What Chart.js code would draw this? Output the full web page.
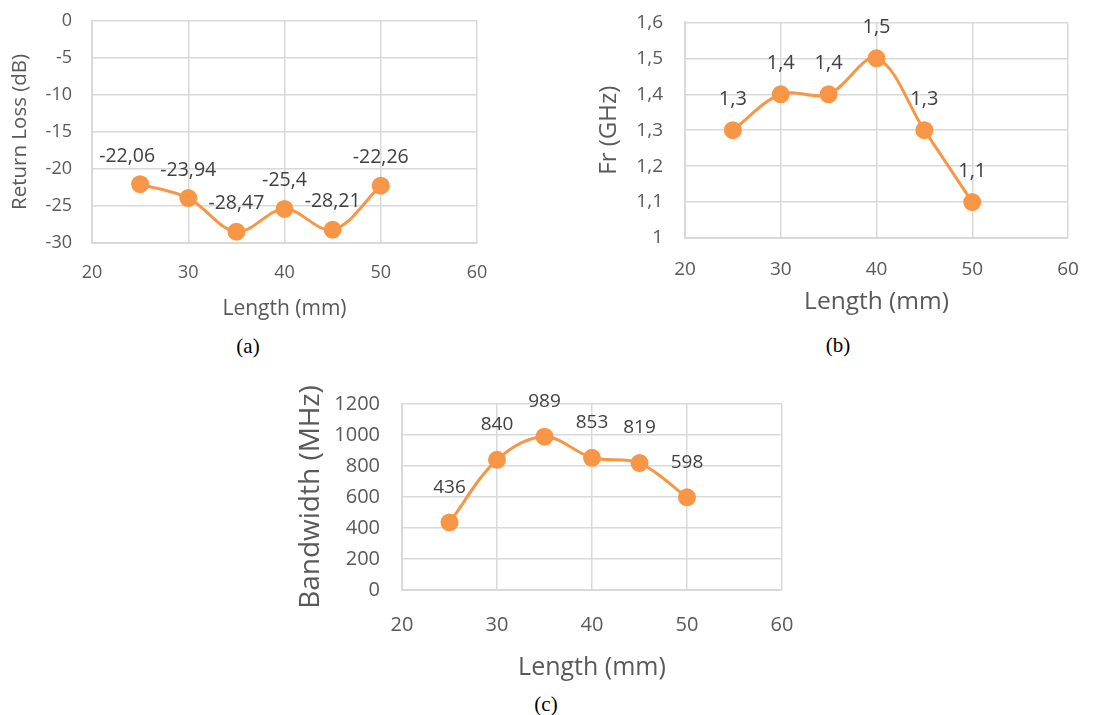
<!DOCTYPE html>
<html>
<head>
<meta charset="utf-8">
<script src="https://cdn.jsdelivr.net/npm/chart.js@4/dist/chart.umd.min.js"></script>
<style>
  body { margin: 0; background: #fff; }
  #page { position: relative; width: 1103px; height: 715px; background: #fff; overflow: hidden; }
  canvas { position: absolute; }
  .cap { position: absolute; font-family: "Liberation Serif", "Times New Roman", serif; font-size: 21px; color: #000; transform: translate(-50%, -50%); }
</style>
</head>
<body>
<div id="page">
  <canvas id="grafA" width="507" height="340" style="left:0px;top:-10px"></canvas>
  <canvas id="grafB" width="543" height="341" style="left:560px;top:-11px"></canvas>
  <canvas id="grafC" width="540" height="320" style="left:280px;top:370px"></canvas>
  <div class="cap" style="left:248px;top:346px">(a)</div>
  <div class="cap" style="left:838px;top:345px">(b)</div>
  <div class="cap" style="left:546px;top:704px">(c)</div>
</div>
<script>
// data
const lengths = [25, 30, 35, 40, 45, 50];
const returnLoss = [-22.06, -23.94, -28.47, -25.4, -28.21, -22.26];
const freqGHz = [1.3, 1.4, 1.4, 1.5, 1.3, 1.1];
const bandwidthMHz = [436, 840, 989, 853, 819, 598];

const lengthTicks = { min: 20, max: 60, step: 10 };
const returnLossTicks = { min: -30, max: 0, step: 5 };
const freqTicks = { min: 1, max: 1.6, step: 0.1 };
const bandwidthTicks = { min: 0, max: 1200, step: 200 };

const ORANGE = '#F79646';
const GRID = '#d9d9d9';
const TEXT = '#595959';
const FONT = "'Open Sans', 'Liberation Sans', sans-serif";

// decimal comma like in the original
function comma(v) {
  if (Number.isInteger(v)) return String(v);
  return String(Math.round(v * 100) / 100).replace('.', ',');
}

// simple value labels above each point
const valueLabels = {
  id: 'valueLabels',
  afterDatasetsDraw(chart, args, opts) {
    const ctx = chart.ctx;
    const ds = chart.data.datasets[0];
    const meta = chart.getDatasetMeta(0);
    const shift = opts.shift || [];
    ctx.save();
    ctx.font = opts.size + 'px ' + FONT;
    ctx.fillStyle = '#404040';
    ctx.textAlign = 'center';
    ctx.textBaseline = 'middle';
    meta.data.forEach((pt, i) => {
      ctx.fillText(comma(ds.data[i].y), pt.x + (shift[i] || 0), pt.y - opts.offset);
    });
    ctx.restore();
  }
};

function makeChart(id, values, yt, cfg) {
  new Chart(document.getElementById(id), {
    type: 'line',
    data: {
      datasets: [{
        data: lengths.map((x, i) => ({ x: x, y: values[i] })),
        borderColor: ORANGE,
        backgroundColor: ORANGE,
        borderWidth: 3,
        pointRadius: 7.5,
        pointHoverRadius: 7.5,
        tension: 0.35,
        clip: false
      }]
    },
    options: {
      responsive: false,
      animation: false,
      layout: { autoPadding: false, padding: { left: 0, top: cfg.top, right: cfg.right, bottom: 0 } },
      plugins: {
        legend: { display: false },
        tooltip: { enabled: false },
        valueLabels: { size: cfg.labelSize, offset: cfg.labelOffset, shift: cfg.labelShift }
      },
      scales: {
        x: {
          type: 'linear',
          min: lengthTicks.min,
          max: lengthTicks.max,
          ticks: { stepSize: lengthTicks.step, color: TEXT, font: { family: FONT, size: cfg.tickSize }, padding: cfg.xTickPad },
          grid: { color: GRID, lineWidth: 1.5, drawTicks: false },
          border: { color: GRID, width: 2 },
          title: { display: true, text: 'Length (mm)', color: TEXT, font: { family: FONT, size: cfg.xTitleSize }, padding: { top: 0, bottom: cfg.xTitlePad } },
          afterFit: (s) => { s.height = cfg.xHeight; }
        },
        y: {
          min: yt.min,
          max: yt.max,
          ticks: { stepSize: yt.step, color: TEXT, font: { family: FONT, size: cfg.tickSize }, padding: cfg.yTickPad, callback: (v) => comma(v) },
          grid: { color: GRID, lineWidth: 1.5, drawTicks: false },
          border: { color: GRID, width: 2 },
          title: { display: true, text: cfg.yTitle, color: TEXT, font: { family: FONT, size: cfg.yTitleSize }, padding: { top: cfg.yTitlePad, bottom: 0 } },
          afterFit: (s) => { s.width = cfg.yWidth; }
        }
      }
    },
    plugins: [valueLabels]
  });
}

makeChart('grafA', returnLoss, returnLossTicks, {
  top: 20, right: 30, yWidth: 92, xHeight: 87,
  tickSize: 18, labelSize: 19.5, labelOffset: 28, labelShift: [-13, 0, 0, 0, 0, 0],
  xTickPad: 19, yTickPad: 20,
  xTitleSize: 21, xTitlePad: 8,
  yTitle: 'Return Loss (dB)', yTitleSize: 20.5, yTitlePad: 8
});

makeChart('grafB', freqGHz, freqTicks, {
  top: 20, right: 35, yWidth: 125, xHeight: 92,
  tickSize: 19, labelSize: 20, labelOffset: 31,
  xTickPad: 20, yTickPad: 22,
  xTitleSize: 24.5, xTitlePad: 13,
  yTitle: 'Fr (GHz)', yTitleSize: 24, yTitlePad: 35
});

makeChart('grafC', bandwidthMHz, bandwidthTicks, {
  top: 23, right: 38, yWidth: 122, xHeight: 100,
  tickSize: 20, labelSize: 19, labelOffset: 35,
  xTickPad: 23, yTickPad: 22,
  xTitleSize: 25, xTitlePad: 7,
  yTitle: 'Bandwidth (MHz)', yTitleSize: 28, yTitlePad: 14
});
</script>
</body>
</html>
